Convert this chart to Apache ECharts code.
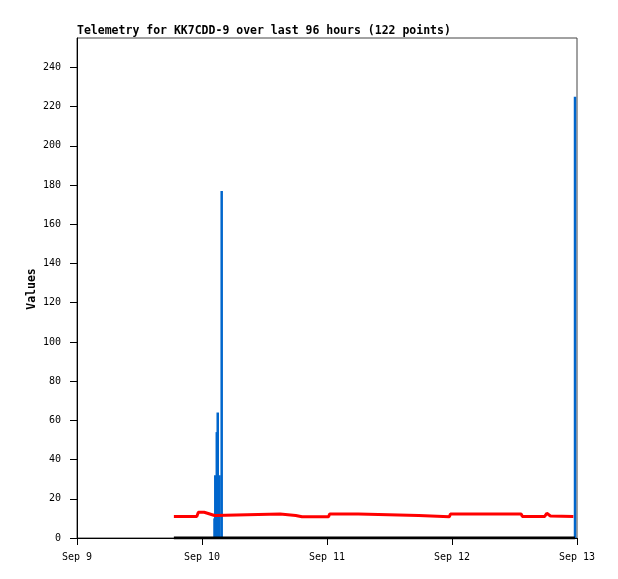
<!DOCTYPE html>
<html>
<head>
<meta charset="utf-8">
<script src="https://cdn.jsdelivr.net/npm/echarts@6/dist/echarts.min.js"></script>
<style>html,body{margin:0;padding:0;background:#fff;}#c{width:618px;height:579px;}</style>
</head>
<body>
<div id="c"></div>
<script>
// x values are hours since Sep 9 00:00
const xTickLabels = ['Sep 9', 'Sep 10', 'Sep 11', 'Sep 12', 'Sep 13'];
const yTickValues = [0, 20, 40, 60, 80, 100, 120, 140, 160, 180, 200, 220, 240];
const yAxisTitle = 'Values';

const redHours  = [18.6, 23.0, 23.3, 24.4, 25.2, 26.4, 26.7, 39.0, 39.2, 42.0, 42.2, 43.2, 43.4, 43.6, 48.3, 48.5, 54.0, 54.2, 65.6, 65.8, 71.5, 71.7, 85.3, 85.5, 89.8, 90.2, 90.5, 90.9, 95.3];
const redValues = [11.0, 11.0, 13.1, 13.1, 12.5, 11.5, 12.2, 12.2, 11.5, 11.5, 10.8, 10.8, 11.8, 10.8, 10.8, 12.2, 12.2, 11.5, 11.5, 10.8, 10.8, 12.2, 12.2, 11.0, 11.0, 12.6, 13.1, 11.2, 11.0];

const blackHours  = [18.6, 95.6];
const blackValues = [0, 0];

const blueHours  = [26.4, 26.55, 26.84, 27.02, 27.36, 27.78, 95.62];
const blueValues = [10, 32, 54, 64, 32, 177, 225];

const zip = (a, b) => a.map((v, i) => [v, b[i]]);

const chart = echarts.init(document.getElementById('c'));
const mono = 'DejaVu Sans Mono';
chart.setOption({
  animation: false,
  backgroundColor: '#fff',
  title: {
    text: 'Telemetry for KK7CDD-9 over last 96 hours (122 points)',
    left: 72, top: 20,
    textStyle: { fontFamily: mono, fontSize: 11.5, fontWeight: 'bold', color: '#000' }
  },
  graphic: [{
    type: 'text', x: 32, y: 289, rotation: Math.PI / 2,
    style: { text: yAxisTitle, align: 'center', verticalAlign: 'middle',
             font: 'bold 11.5px "DejaVu Sans Mono"', fill: '#000' }
  }],
  grid: { left: 77, right: 41, top: 38, bottom: 41, show: true, borderColor: '#444', borderWidth: 1, backgroundColor: 'transparent' },
  xAxis: {
    type: 'value', min: 0, max: 96, interval: 24,
    axisLine: { show: true, lineStyle: { color: '#000', width: 1 } },
    axisTick: { show: true, length: 7, lineStyle: { color: '#000' } },
    axisLabel: {
      margin: 14, fontFamily: mono, fontSize: 10, color: '#000',
      formatter: v => xTickLabels[Math.round(v / 24)]
    },
    splitLine: { show: false }
  },
  yAxis: {
    type: 'value', min: 0, max: 255,
    axisLine: { show: true, lineStyle: { color: '#000', width: 1 } },
    axisTick: { show: true, length: 7, lineStyle: { color: '#000' }, customValues: yTickValues },
    axisLabel: { margin: 16, fontFamily: mono, fontSize: 10, color: '#000', customValues: yTickValues },
    splitLine: { show: false }
  },
  series: [
    {
      type: 'bar', data: zip(blueHours, blueValues), barWidth: 2.5,
      itemStyle: { color: '#0066CC' }, z: 2
    },
    {
      type: 'line', data: zip(redHours, redValues), showSymbol: false,
      lineStyle: { color: '#FF0000', width: 3 }, z: 3
    },
    {
      type: 'line', data: zip(blackHours, blackValues), showSymbol: false,
      lineStyle: { color: '#000', width: 3 }, z: 4
    }
  ]
});
</script>
</body>
</html>
